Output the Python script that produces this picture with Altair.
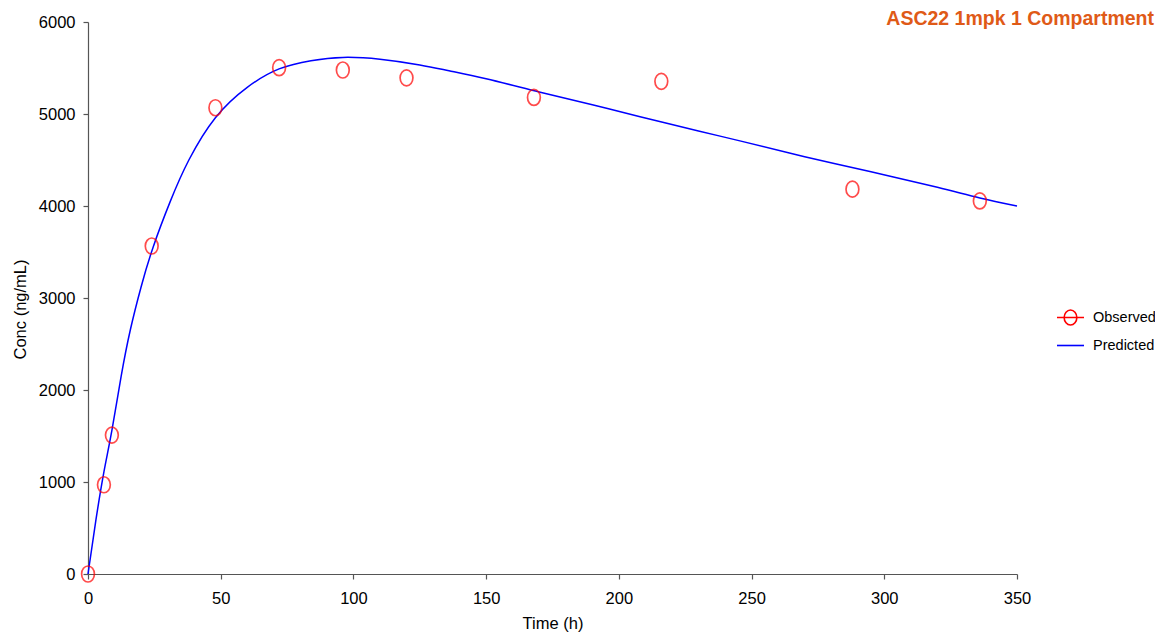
import altair as alt
import pandas as pd

# Observed data
obs_time = [0, 6, 9, 24, 48, 72, 96, 120, 168, 216, 288, 336]
obs_conc = [0, 970, 1510, 3565, 5068, 5503, 5478, 5393, 5180, 5355, 4183, 4055]

# Predicted curve
pred_time = [0, 3, 6, 9, 12.5, 16, 20, 24.5, 31, 38, 48, 60, 72, 84, 96, 110, 125, 136,
             150, 170, 190, 208, 230, 246, 270, 295, 320, 336, 350]
pred_conc = [0, 590, 1110, 1560, 2150, 2660, 3120, 3550, 4050, 4500, 4960, 5290, 5490,
             5580, 5615, 5595, 5533, 5470, 5383, 5240, 5100, 4970, 4815, 4705, 4536,
             4372, 4203, 4088, 4000]

series_names = ["Observed", "Predicted"]
x_ticks = [0, 50, 100, 150, 200, 250, 300, 350]
y_ticks = [0, 1000, 2000, 3000, 4000, 5000, 6000]
title_text = ["ASC22 1mpk 1 Compartment"]

FONT = "Liberation Sans"
ELLIPSE = "M0,-1A0.8,1 0 1,1 0,1A0.8,1 0 1,1 0,-1Z"
LEG_OBS = "M-1,0L1,0M0,-0.56A0.47,0.56 0 1,1 0,0.56A0.47,0.56 0 1,1 0,-0.56Z"
LEG_PRED = "M-1,0L1,0"

df_obs = pd.DataFrame({"time": obs_time, "conc": obs_conc})
df_pred = pd.DataFrame({"time": pred_time, "conc": pred_conc})
df_leg = pd.DataFrame({"series": series_names})
df_title = pd.DataFrame({"label": title_text})

xs = alt.Scale(domain=[0, 350], nice=False)
ys = alt.Scale(domain=[0, 6000], nice=False)
xax = alt.Axis(values=x_ticks, title="Time (h)", grid=False, format="d",
               labelFlush=False, labelPadding=11, titlePadding=9)
yax = alt.Axis(values=y_ticks, title="Conc (ng/mL)", grid=False, format="d",
               labelFlush=False, labelPadding=8, titlePadding=10, titleY=287)

line = alt.Chart(df_pred).mark_line(color="#0000FF", strokeWidth=1.5, interpolate="natural").encode(
    x=alt.X("time:Q", scale=xs, axis=xax),
    y=alt.Y("conc:Q", scale=ys, axis=yax),
)

points = alt.Chart(df_obs).mark_point(
    shape=ELLIPSE, filled=False, color="#FF0000", size=256, strokeWidth=1.7
).encode(
    x=alt.X("time:Q", scale=xs, axis=xax),
    y=alt.Y("conc:Q", scale=ys, axis=yax),
)

leg = alt.Chart(df_leg).mark_point(filled=False, opacity=0, strokeWidth=1.6).encode(
    color=alt.Color("series:N", scale=alt.Scale(domain=series_names, range=["#FF0000", "#0000FF"]),
                    legend=alt.Legend(title=None)),
    shape=alt.Shape("series:N", scale=alt.Scale(domain=series_names, range=[LEG_OBS, LEG_PRED]),
                    legend=alt.Legend(title=None)),
)

title = alt.Chart(df_title).mark_text(
    align="right", baseline="alphabetic", font=FONT, fontSize=19.5, fontWeight="bold",
    color="#DF5A17",
).encode(text="label:N", x=alt.value(1066), y=alt.value(3))

chart = alt.layer(line, points, leg, title).properties(
    width=929,
    height=552,
    autosize=alt.AutoSizeParams(type="none"),
    padding={"left": 80, "top": 14, "right": 138, "bottom": 61},
).configure_view(stroke=None).configure_axis(
    labelFont=FONT, labelFontSize=16.5, labelColor="#000000",
    titleFont=FONT, titleFontSize=16.5, titleColor="#000000", titleFontWeight="normal",
    domainColor="#555555", tickColor="#555555", tickSize=5,
    domainWidth=1.2, tickWidth=1.2,
).configure_legend(
    orient="none", legendX=968, legendY=281, padding=0,
    symbolSize=729, symbolStrokeWidth=1.6, symbolOpacity=1,
    labelFont=FONT, labelFontSize=14.5, labelColor="#000000", labelOffset=8, rowPadding=2,
)

chart.save("out.html", embed_options={"renderer": "svg", "actions": False})
